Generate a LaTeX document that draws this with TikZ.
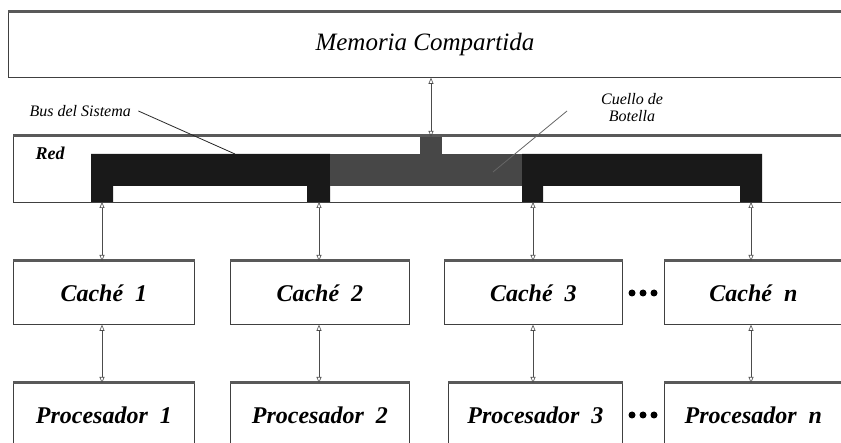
\documentclass[tikz,border=0pt]{standalone}
\usepackage{fontspec}
\setmainfont{Liberation Serif}
\usetikzlibrary{arrows.meta}
\begin{document}
\begin{tikzpicture}[x=1pt,y=-1pt,
  box/.style={draw=black!75, line width=0.8pt, rectangle, inner sep=0pt, anchor=north west,
    font=\bfseries\itshape\fontsize{24}{26}\selectfont},
  topline/.style={line width=3pt, draw=black!65},
  link/.style={draw=black!70, line width=0.6pt,
    {Triangle[open,length=6pt,width=5pt]}-{Triangle[open,length=6pt,width=5pt]}},
  lead/.style={draw=black!85, line width=0.8pt},
  bus/.style={fill=black!90, draw=none},
  neck/.style={fill=black!72, draw=none},
  dot/.style={circle, fill=black, inner sep=0pt, minimum size=7pt},
  small/.style={font=\itshape\fontsize{16}{17}\selectfont}
]
\useasboundingbox (0,0) rectangle (841,443);

% Shared memory
\node[box, minimum width=845pt, minimum height=65pt,
  font=\itshape\fontsize{25}{27}\selectfont] (mem) at (8,12) {\hspace*{-12pt}Memoria Compartida};

% Network box
\node[box, minimum width=840pt, minimum height=66pt] (red) at (13,136) {};
\node[anchor=west, font=\bfseries\itshape\fontsize{18}{19}\selectfont] (redl) at (32,153) {Red};

% Bus
\fill[bus] (91,154) -- (330,154) -- (330,202) -- (307,202) -- (307,186) -- (113,186) -- (113,202) -- (91,202) -- cycle;
\fill[neck] (330,154) -- (522,154) -- (522,186) -- (330,186) -- cycle;
\fill[neck] (420,137) rectangle (442,154);
\fill[bus] (522,154) -- (762,154) -- (762,202) -- (740,202) -- (740,186) -- (543,186) -- (543,202) -- (522,202) -- cycle;

\coordinate (st) at (431,137);
\coordinate (l1) at (102,202);
\coordinate (l2) at (319,202);
\coordinate (l3) at (533,202);
\coordinate (l4) at (751,202);

% Caches
\node[box, minimum width=181pt, minimum height=63pt] (c1) at (13,261) {Caché\ \ 1};
\node[box, minimum width=179pt, minimum height=63pt] (c2) at (230,261) {Caché\ \ 2};
\node[box, minimum width=178pt, minimum height=63pt] (c3) at (444,261) {Caché\ \ 3};
\node[box, minimum width=190pt, minimum height=63pt] (c4) at (664,261) {\hspace*{-12pt}Caché\ \ \textit{n}};

% Processors
\node[box, minimum width=181pt, minimum height=64pt] (p1) at (13,383) {Procesador\ \ 1};
\node[box, minimum width=179pt, minimum height=64pt] (p2) at (230,383) {Procesador\ \ 2};
\node[box, minimum width=174pt, minimum height=64pt] (p3) at (448,383) {Procesador\ \ 3};
\node[box, minimum width=190pt, minimum height=64pt] (p4) at (664,383) {\hspace*{-12pt}Procesador\ \ \textit{n}};

% Thick top edges
\foreach \n in {mem,red,c1,c2,c3,c4,p1,p2,p3,p4}
  \draw[topline] (\n.north west) -- (\n.north east);

% Dots
\node[dot] (d1) at (632,293) {};
\node[dot] (d2) at (643,293) {};
\node[dot] (d3) at (654,293) {};
\node[dot] (e1) at (632,415) {};
\node[dot] (e2) at (643,415) {};
\node[dot] (e3) at (654,415) {};

% Links
\draw[link] (st |- mem.south) -- (st);
\draw[link] (l1) -- (l1 |- c1.north);
\draw[link] (l2) -- (l2 |- c2.north);
\draw[link] (l3) -- (l3 |- c3.north);
\draw[link] (l4) -- (l4 |- c4.north);
\draw[link] (l1 |- c1.south) -- (l1 |- p1.north);
\draw[link] (l2 |- c2.south) -- (l2 |- p2.north);
\draw[link] (l3 |- c3.south) -- (l3 |- p3.north);
\draw[link] (l4 |- c4.south) -- (l4 |- p4.north);

% Labels
\node[small, anchor=west] (busl) at (26,111) {Bus del Sistema};
\coordinate (bt) at (235,154);
\draw[lead] ([xshift=4pt]busl.east) -- (bt);
\node[small, align=center] (cue) at (632,108) {Cuello de\\Botella};
\coordinate (cs) at (567,111);
\coordinate (ce) at (493,172);
\draw[draw=black!60, line width=0.8pt] (cs) -- (ce);
\end{tikzpicture}
\end{document}
